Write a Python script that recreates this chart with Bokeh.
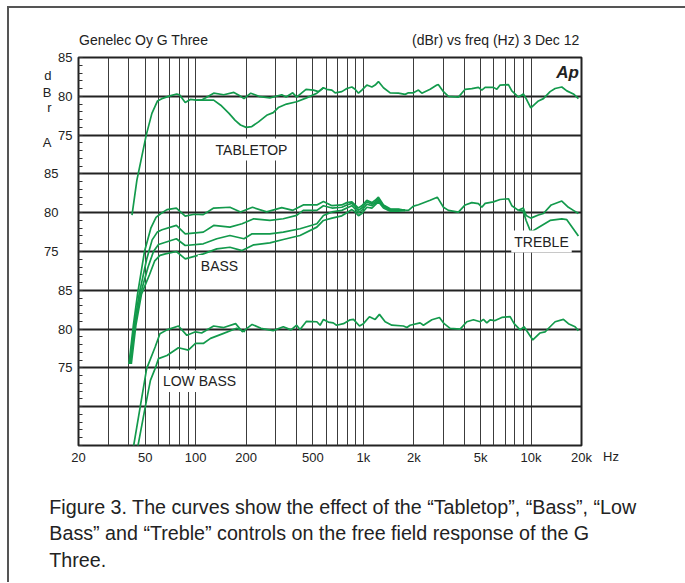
import numpy as np
from bokeh.plotting import figure
from bokeh.layouts import column, row
from bokeh.models import Range1d, FixedTicker, SingleIntervalTicker, Label, LinearAxis, Div
from bokeh.embed import file_html
from bokeh.resources import INLINE

# ---------------- data ----------------
# Panel 1 (TABLETOP): flat reference response, true dBr values
p1_freq = [41.7, 44.6, 50.7, 54.8, 59.2, 62.8, 70.2, 77.1, 80.5, 86.6,
           92.9, 101, 108, 128, 147, 169, 181, 194, 213, 242,
           277, 326, 346, 379, 400, 455, 504, 540, 578, 605,
           649, 679, 744, 797, 854, 893, 935, 979, 1049, 1124,
           1176, 1230, 1318, 1445, 1619, 1775, 1857, 1989, 2131, 2232,
           2502, 2744, 2804, 3004, 3217, 3690, 4046, 4436, 4856, 5088,
           5325, 5966, 6252, 6541, 7332, 7681, 8410, 9006, 9348, 9970,
           11068, 11854, 12994, 13920, 15259, 16347, 17894, 19166]
p1_db = [64.7, 69.2, 75.0, 77.8, 79.4, 79.7, 80.05, 80.3, 80.15, 79.2,
         79.6, 79.5, 79.5, 80.4, 80.2, 80.5, 80.15, 79.7, 80.4, 79.95,
         79.8, 80.2, 79.9, 80.45, 79.9, 80.9, 80.8, 80.6, 81.1, 80.9,
         80.8, 80.45, 80.6, 81.0, 81.2, 80.9, 80.4, 80.8, 81.45, 81.2,
         81.45, 81.9, 81.1, 80.45, 80.4, 80.25, 80.45, 80.45, 80.8, 80.4,
         80.9, 81.45, 81.5, 80.6, 80.0, 79.9, 80.9, 81.0, 81.15, 80.8,
         81.15, 81.15, 80.9, 81.45, 81.5, 80.7, 79.9, 80.3, 79.7, 78.5,
         79.4, 79.7, 80.6, 81.0, 81.2, 80.7, 80.3, 79.7]

# Tabletop setting (deviates from the flat curve between ~100 Hz and ~600 Hz)
tt_freq = [101, 108, 128, 141, 158, 172, 185, 200, 216, 237,
           265, 290, 311, 348, 400, 458, 528, 578]
tt_db = [79.5, 79.5, 79.5, 78.85, 77.8, 76.9, 76.3, 76.0, 76.1, 76.7,
         77.55, 77.9, 78.55, 79.0, 79.3, 79.8, 80.4, 81.1]

# Panel 2 (BASS / TREBLE): four bass settings up to ~1.8 kHz
bass0_freq = [40.0, 42.5, 45.0, 49.5, 54.0, 58.0, 62.0, 67.4, 76.7, 86.6,
              97.9, 111, 128, 160, 185, 218, 265, 326, 380, 438,
              528, 578, 650, 744, 797, 854, 893, 935, 979, 1049,
              1124, 1176, 1230, 1318, 1445, 1619, 1775]
bass0_db = [60.5, 65.5, 69.5, 75.0, 78.0, 79.4, 79.9, 80.4, 80.6, 79.56,
            79.8, 79.75, 80.6, 80.7, 80.1, 80.7, 80.1, 80.65, 80.3, 81.0,
            81.0, 81.45, 80.9, 81.0, 81.3, 81.4, 81.0, 80.6, 80.9, 81.6,
            81.3, 81.6, 82.0, 81.0, 80.5, 80.45, 80.3]

bass1_freq = [40.3, 43.0, 46.0, 51.0, 55.0, 59.0, 63.0, 76.7, 86.6, 111,
              128, 160, 189, 222, 277, 333, 400, 438, 528, 578,
              650, 744, 797, 854, 893, 935, 979, 1049, 1124, 1176,
              1230, 1318, 1445, 1619, 1775]
bass1_db = [60.5, 65.5, 69.5, 74.0, 76.5, 77.5, 77.8, 78.36, 77.28, 77.5,
            78.36, 78.14, 78.58, 79.22, 79.0, 79.22, 79.65, 80.3, 80.3, 80.9,
            80.6, 80.7, 81.0, 81.2, 80.8, 80.3, 80.6, 81.4, 81.1, 81.4,
            81.8, 80.9, 80.4, 80.4, 80.3]

bass2_freq = [40.8, 43.5, 46.8, 52.0, 56.0, 60.0, 64.0, 76.7, 86.6, 111,
              133.6, 160, 194, 217, 277, 333, 419, 528, 578, 650,
              744, 797, 854, 893, 935, 979, 1049, 1124, 1176, 1230,
              1318, 1445, 1619, 1775]
bass2_db = [60.5, 65.5, 69.5, 73.0, 75.0, 75.9, 76.1, 76.64, 75.77, 75.99,
            76.64, 77.06, 76.64, 77.28, 77.28, 77.5, 77.93, 78.58, 79.65, 80.1,
            80.3, 80.6, 80.9, 80.5, 80.0, 80.3, 81.1, 80.9, 81.2, 81.6,
            80.8, 80.3, 80.3, 80.3]

bass3_freq = [41.3, 44.0, 47.5, 53.0, 57.0, 61.2, 66.0, 76.7, 86.6, 111,
              133.6, 160, 189, 222, 277, 333, 419, 528, 578, 650,
              744, 797, 854, 893, 935, 979, 1049, 1124, 1176, 1230,
              1318, 1445, 1619, 1775]
bass3_db = [60.5, 65.5, 69.5, 72.0, 73.8, 74.5, 74.7, 75.0, 74.05, 74.7,
            75.34, 75.55, 75.12, 75.86, 76.12, 76.55, 77.06, 78.14, 79.0, 79.3,
            79.6, 80.0, 80.4, 80.1, 79.6, 79.9, 80.7, 80.6, 81.0, 81.4,
            80.6, 80.2, 80.2, 80.3]

# Panel 2: common part of all settings, then the two treble settings
p2mid_freq = [1775, 1857, 1989, 2131, 2502, 2760, 3004, 3217, 3690, 4046,
              4436, 4856, 5088, 5325, 5966, 6541, 7332, 7681, 8410]
p2mid_db = [80.3, 80.3, 80.85, 81.03, 81.6, 82.0, 80.7, 80.3, 80.08, 81.0,
            81.3, 81.16, 80.7, 81.2, 81.4, 81.7, 81.8, 80.9, 80.3]
treble0_freq = [8410, 8990, 9348, 9970, 11068, 11854, 13200, 15259, 16710, 17894, 19166]
treble0_db = [80.3, 80.6, 79.65, 79.3, 79.7, 79.9, 81.0, 81.5, 80.7, 80.3, 79.9]
treble1_freq = [8410, 8990, 9348, 9970, 11068, 12994, 15259, 16347, 19166]
treble1_db = [80.3, 80.2, 79.0, 77.5, 78.1, 79.0, 79.2, 79.1, 77.0]

# Panel 3 (LOW BASS)
lb0_freq = [40.0, 42.6, 46.7, 51.0, 57.3, 61.2, 67.4, 78.9, 88.6, 99.7,
            108.5, 128, 147, 173, 190, 217, 245, 290, 333, 370,
            400, 419, 458, 528, 552, 578, 618, 661, 692, 761,
            834, 873, 948, 1001, 1087, 1176, 1247, 1349, 1479, 1734,
            1817, 1901, 2180, 2282, 2562, 2843, 3032, 3293, 3777, 4140,
            4534, 4970, 5200, 5450, 5702, 6106, 6692, 7504, 7928, 8610,
            9096, 10248, 11326, 12132, 12993, 13922, 15602, 16710, 18312, 19166]
lb0_db = [60.5, 64.9, 70.0, 74.9, 77.7, 79.4, 79.9, 80.4, 79.2, 79.65,
          79.5, 80.4, 80.2, 80.7, 79.65, 80.6, 80.1, 79.8, 80.3, 79.9,
          80.5, 79.95, 81.0, 80.95, 80.5, 81.25, 80.9, 80.8, 80.5, 80.7,
          81.2, 81.25, 80.4, 80.7, 81.6, 81.25, 81.9, 80.95, 80.5, 80.4,
          80.2, 80.5, 80.8, 80.5, 81.2, 81.5, 80.7, 80.1, 80.0, 80.95,
          81.2, 80.95, 81.25, 80.8, 81.2, 81.1, 81.5, 81.6, 80.7, 79.9,
          80.3, 78.6, 79.5, 79.65, 80.3, 80.95, 81.25, 80.7, 80.3, 79.8]
lb1_freq = [41.0, 45.2, 50.0, 53.7, 57.5, 60.0, 67.4, 78.9, 90.4, 99.7,
            111, 122.6, 146.8, 175.5, 197]
lb1_db = [58.5, 64.9, 69.95, 73.4, 75.0, 76.2, 76.6, 77.6, 77.3, 78.15,
          78.15, 78.8, 79.45, 80.1, 79.65]

# stacked panels: offset (dB) and the dB values printed on the axis
panel_offsets = [0, -15, -30]
panel_tick_labels = ["85", "80", "75"]
panel_tick_values = [85, 80, 75]
unit_letters = ["d", "B", "r", "A"]
unit_letter_y = [82.7, 80.5, 78.5, 74.1]

x_ticks = [20, 50, 100, 200, 500, 1000, 2000, 5000, 10000, 20000]
x_tick_labels = ["20", "50", "100", "200", "500", "1k", "2k", "5k", "10k", "20k"]
x_grid = [30, 40, 50, 60, 70, 80, 90, 100, 200, 300, 400, 500, 600, 700, 800, 900,
          1000, 2000, 3000, 4000, 5000, 6000, 7000, 8000, 9000, 10000]

header_left = "Genelec Oy G Three"
header_right = "(dBr) vs freq (Hz) 3 Dec 12"
caption_lines = ["Figure 3. The curves show the effect of the \u201cTabletop\u201d, \u201cBass\u201d, \u201cLow",
                 "Bass\u201d and \u201cTreble\u201d controls on the free field response of the G",
                 "Three."]

# ---------------- layout constants (page px) ----------------
FONT = "Liberation Sans"
GREEN = "#139a4c"
TXT = "#222222"
OX, OY = 9, 8                 # content origin inside the bordered box
TOTAL_W = 676
HEADER_H = 40
FIG_W, FIG_H = 590, 427
MBL, MBT, MBR, MBB = 69, 9, 18, 30
HZ_W = TOTAL_W - FIG_W
CAP_H = 107
FL = OX + MBL
FT = OY + HEADER_H + MBT
FW = FIG_W - MBL - MBR
FH = FIG_H - MBT - MBB

p = figure(width=FIG_W, height=FIG_H, x_axis_type="log",
           x_range=Range1d(20, 20000), y_range=Range1d(35, 85),
           output_backend="svg", toolbar_location=None,
           min_border_left=MBL, min_border_top=MBT,
           min_border_right=MBR, min_border_bottom=MBB)
p.background_fill_color = "white"
p.border_fill_color = "white"
p.outline_line_color = "#222222"
p.outline_line_width = 2
p.outline_line_alpha = 1

# x axis
xa = p.xaxis[0]
xa.ticker = FixedTicker(ticks=x_ticks)
xa.major_label_overrides = {t: l for t, l in zip(x_ticks, x_tick_labels)}
xa.major_tick_line_color = None
xa.minor_tick_line_color = None
xa.axis_line_color = None
xa.major_label_standoff = -2
xa.major_label_text_font = FONT
xa.major_label_text_font_size = "13px"
xa.major_label_text_color = TXT

def style_axis(ax, standoff):
    ax.axis_line_color = None
    ax.major_label_standoff = standoff
    ax.major_label_text_font = FONT
    ax.major_label_text_font_size = "13px"
    ax.major_label_text_color = TXT

# inner left axis: panels 1 and 3 numbers + inner 1 dB ticks
ya = p.yaxis[0]
inner_vals = [v + o for o in (panel_offsets[0], panel_offsets[2]) for v in panel_tick_values]
inner_lbls = panel_tick_labels * 2
ya.ticker = FixedTicker(ticks=inner_vals, minor_ticks=list(range(35, 86)))
ya.major_label_overrides = {v: l for v, l in zip(inner_vals, inner_lbls)}
ya.major_tick_in = 4
ya.major_tick_out = 0
ya.minor_tick_in = 4
ya.minor_tick_out = 0
ya.major_tick_line_color = "#333333"
ya.minor_tick_line_color = "#333333"
style_axis(ya, 6)

# middle left axis: panel 2 numbers (printed a little further left)
mid_vals = [v + panel_offsets[1] for v in panel_tick_values]
ya2 = LinearAxis(ticker=FixedTicker(ticks=mid_vals),
                 major_label_overrides={v: l for v, l in zip(mid_vals, panel_tick_labels)})
ya2.major_tick_line_color = None
ya2.minor_tick_line_color = None
style_axis(ya2, -9)
p.add_layout(ya2, "left")

# outer left axis: the stacked unit letters d B r / A
ya3 = LinearAxis(ticker=FixedTicker(ticks=unit_letter_y),
                 major_label_overrides={v: l for v, l in zip(unit_letter_y, unit_letters)})
ya3.major_tick_line_color = None
ya3.minor_tick_line_color = None
style_axis(ya3, -16)
p.add_layout(ya3, "left")

# grids
p.xgrid[0].ticker = FixedTicker(ticks=x_grid)
p.xgrid[0].grid_line_color = "#3c3c3c"
p.xgrid[0].grid_line_width = 1
p.ygrid[0].ticker = SingleIntervalTicker(interval=5)
p.ygrid[0].grid_line_color = "#222222"
p.ygrid[0].grid_line_width = 2

# curves
def curve(freq, db, offset):
    p.line(freq, np.array(db) + offset, line_color=GREEN, line_width=1.7)

curve(p1_freq, p1_db, panel_offsets[0])
curve(tt_freq, tt_db, panel_offsets[0])
for f, d in [(bass0_freq, bass0_db), (bass1_freq, bass1_db),
             (bass2_freq, bass2_db), (bass3_freq, bass3_db),
             (p2mid_freq, p2mid_db), (treble0_freq, treble0_db),
             (treble1_freq, treble1_db)]:
    curve(f, d, panel_offsets[1])
curve(lb0_freq, lb0_db, panel_offsets[2])
curve(lb1_freq, lb1_db, panel_offsets[2])

# ---------------- texts inside the frame ----------------
def px2x(px):
    return 20 * 10 ** ((px - FL) / FW * 3)

def py2y(py):
    return 85 - (py - FT) / FH * 50

def lab(text, px, py, size="14px", style="normal", bg=None, pad=0):
    p.add_layout(Label(x=px2x(px), y=py2y(py), text=text, text_align="center",
                       text_baseline="middle", text_font=FONT, text_font_size=size,
                       text_font_style=style, text_color=TXT,
                       background_fill_color=bg, padding=pad))

lab("Ap", 567, 72, size="17px", style="bold italic")
lab("TABLETOP", 251, 149, bg="white", pad=3)
lab("BASS", 219, 265.5, bg="white", pad=3)
lab("TREBLE", 541, 241, bg="white", pad=3)
lab("LOW BASS", 199, 380.5, bg="white", pad=3)

# ---------------- texts around the chart (HTML) ----------------
base = f"font-family:'{FONT}';color:{TXT};white-space:nowrap;position:relative;"
header = Div(width=TOTAL_W, height=HEADER_H, margin=0, text=(
    f'<div style="{base}width:{TOTAL_W}px;height:{HEADER_H}px;font-size:14px;line-height:16px">'
    f'<span style="position:absolute;left:{79 - OX}px;top:23.5px">{header_left}</span>'
    f'<span style="position:absolute;right:{TOTAL_W - (579.3 - OX):.1f}px;top:23.5px">{header_right}</span>'
    f'</div>'))
hz = Div(width=HZ_W, height=FIG_H, margin=0, text=(
    f'<div style="{base}width:{HZ_W}px;height:{FIG_H}px;font-size:13px;line-height:16px">'
    f'<span style="position:absolute;left:4px;top:401px">Hz</span></div>'))
caption = Div(width=TOTAL_W, height=CAP_H, margin=0, text=(
    f'<div style="{base}width:{TOTAL_W}px;height:{CAP_H}px;font-size:19.7px;line-height:26.5px">'
    f'<div style="position:absolute;left:{49.3 - OX:.1f}px;top:18.5px">'
    + "<br>".join(caption_lines) + '</div></div>'))

layout = column(header, row(p, hz), caption,
                styles={"margin-left": "7px", "margin-top": "6px",
                        "border-left": "2px solid #555555",
                        "border-top": "2px solid #555555"})

html = file_html(layout, INLINE)
open("out.html", "w", encoding="utf-8").write(html)
